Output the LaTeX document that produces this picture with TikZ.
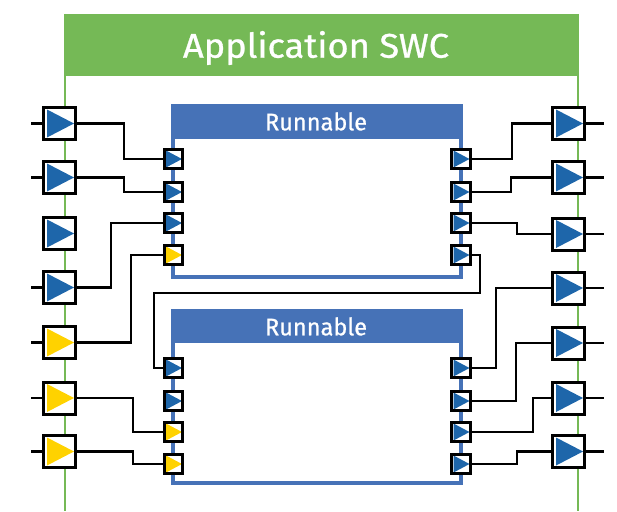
\documentclass[tikz,border=0pt]{standalone}
\usepackage{fontspec}
\setmainfont{Fira Sans}
\newfontfamily\headfont{Fira Sans}[FakeBold=0.8]
\usepackage{graphicx}
\definecolor{swcgreen}{RGB}{117,185,86}
\definecolor{runblue}{RGB}{70,114,183}
\definecolor{triblue}{RGB}{30,102,170}
\definecolor{triyellow}{RGB}{255,210,0}
\tikzset{
  bigport/.style={draw=black, line width=3pt, fill=white, minimum size=32pt, inner sep=0pt,
    path picture={\fill[#1] ([xshift=-12.5pt,yshift=14pt]path picture bounding box.center)
      -- ([xshift=14.5pt]path picture bounding box.center)
      -- ([xshift=-12.5pt,yshift=-14pt]path picture bounding box.center) -- cycle;}},
  smallport/.style={draw=black, line width=2.6pt, fill=white, minimum size=18.5pt, inner sep=0pt,
    path picture={\fill[#1] ([xshift=-7.5pt,yshift=8.5pt]path picture bounding box.center)
      -- ([xshift=8.5pt]path picture bounding box.center)
      -- ([xshift=-7.5pt,yshift=-8.5pt]path picture bounding box.center) -- cycle;}},
  wire/.style={draw=black, line width=2.6pt},
  greenline/.style={draw=swcgreen, line width=2.7pt},
  runline/.style={draw=runblue, line width=3.2pt},
}
\begin{document}
\begin{tikzpicture}[x=1pt,y=-1pt]
\useasboundingbox (0,0) rectangle (617,511);
% Application SWC
\fill[swcgreen] (64,14) rectangle (579.3,76);
\draw[greenline] (65,14) -- (65,511);
\draw[greenline] (578,14) -- (578,511);
\node[text=white, anchor=base, inner sep=0pt] (title) at (316,57.7) {\resizebox{266pt}{26.7pt}{\headfont Application SWC}};
% Runnables
\fill[runblue] (171.4,104) rectangle (462.6,139);
\draw[runline] (173,139) -- (173,277) -- (461,277) -- (461,139);
\node[text=white, anchor=base, inner sep=0pt] (run1) at (316,130.3) {\resizebox{102pt}{18pt}{\headfont Runnable}};
\fill[runblue] (171.4,309) rectangle (462.6,343);
\draw[runline] (173,343) -- (173,483) -- (461,483) -- (461,343);
\node[text=white, anchor=base, inner sep=0pt] (run2) at (316,335.3) {\resizebox{102pt}{18pt}{\headfont Runnable}};
% big ports left
\node[bigport=triblue] (L1) at (59.5,123.5) {};
\node[bigport=triblue] (L2) at (59.5,177.5) {};
\node[bigport=triblue] (L3) at (59.5,233.5) {};
\node[bigport=triblue] (L4) at (59.5,287.5) {};
\node[bigport=triyellow] (L5) at (59.5,342.5) {};
\node[bigport=triyellow] (L6) at (59.5,398) {};
\node[bigport=triyellow] (L7) at (59.5,451.5) {};
% big ports right
\node[bigport=triblue] (R1) at (568.5,123.5) {};
\node[bigport=triblue] (R2) at (568.5,177.5) {};
\node[bigport=triblue] (R3) at (568.5,234) {};
\node[bigport=triblue] (R4) at (568.5,288) {};
\node[bigport=triblue] (R5) at (568.5,343) {};
\node[bigport=triblue] (R6) at (568.5,398) {};
\node[bigport=triblue] (R7) at (568.5,451.5) {};
% small ports runnable 1
\node[smallport=triblue] (a1) at (173.5,159) {};
\node[smallport=triblue] (a2) at (173.5,192) {};
\node[smallport=triblue] (a3) at (173.5,223) {};
\node[smallport=triyellow] (a4) at (173.5,255) {};
\node[smallport=triblue] (b1) at (461,159) {};
\node[smallport=triblue] (b2) at (461,192) {};
\node[smallport=triblue] (b3) at (461,223) {};
\node[smallport=triblue] (b4) at (461,255) {};
% small ports runnable 2
\node[smallport=triblue] (c1) at (173.5,368) {};
\node[smallport=triblue] (c2) at (173.5,401) {};
\node[smallport=triyellow] (c3) at (173.5,432) {};
\node[smallport=triyellow] (c4) at (173.5,464) {};
\node[smallport=triblue] (d1) at (461,368) {};
\node[smallport=triblue] (d2) at (461,401) {};
\node[smallport=triblue] (d3) at (461,432) {};
\node[smallport=triblue] (d4) at (461,464) {};
% stubs
\foreach \n in {L1,L2,L4,L5,L6,L7} \draw[wire] (\n.west) -- ++(-11,0);
\foreach \n in {R1,R2,R3,R4,R5,R6,R7} \draw[wire] (\n.east) -- ++(18,0);
% left connectors
\draw[wire] (L1.east) -- (L1.east -| 124,0) |- (a1.west);
\draw[wire] (L2.east) -- (L2.east -| 124,0) |- (a2.west);
\draw[wire] (L4.east) -- (L4.east -| 111,0) |- (a3.west);
\draw[wire] (L5.east) -- (L5.east -| 131,0) |- (a4.west);
\draw[wire] (L6.east) -- (L6.east -| 133,0) |- (c3.west);
\draw[wire] (L7.east) -- (L7.east -| 133,0) |- (c4.west);
% right connectors
\draw[wire] (b1.east) -- (b1.east -| 512,0) |- (R1.west);
\draw[wire] (b2.east) -- (b2.east -| 511,0) |- (R2.west);
\draw[wire] (b3.east) -- (b3.east -| 517,0) |- (R3.west);
\draw[wire] (d1.east) -- (d1.east -| 496,0) |- (R4.west);
\draw[wire] (d2.east) -- (d2.east -| 516,0) |- (R5.west);
\draw[wire] (d3.east) -- (d3.east -| 533,0) |- (R6.west);
\draw[wire] (d4.east) -- (d4.east -| 517,0) |- (R7.west);
% runnable 1 -> runnable 2
\draw[wire] (b4.east) -| (480,293) -- (154,293) |- (c1.west);
\end{tikzpicture}
\end{document}
